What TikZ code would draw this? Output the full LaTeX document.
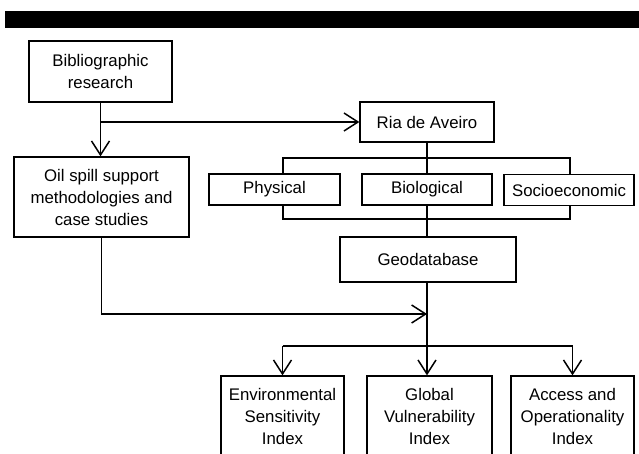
\documentclass[tikz,border=0pt]{standalone}
\usepackage{fontspec}
\setmainfont{Liberation Sans}
\usetikzlibrary{arrows.meta}
\begin{document}
\begin{tikzpicture}[x=1pt,y=-1pt,
  box/.style={draw, line width=1.3pt, fill=white, inner sep=0pt, align=center,
    font=\fontsize{16.8}{22}\selectfont},
  ln/.style={line width=1.5pt},
  arr/.style={line width=1.5pt, -{Straight Barb[length=14pt,width=18pt,line width=1.5pt]}}]
\useasboundingbox (0,0) rectangle (639,454);
\fill[black] (5,11) rectangle (639,28);
\node[box, minimum width=143pt, minimum height=61pt] (bib) at (100.5,71.5) {Bibliographic\\research};
\node[box, minimum width=134pt, minimum height=40pt] (ria) at (427,122) {Ria de Aveiro};
\node[box, minimum width=175pt, minimum height=80pt] (oil) at (101.5,197) {Oil spill support\\methodologies and\\case studies};
\node[box, minimum width=131pt, minimum height=31pt] (phys) at (274.5,189.5) {Physical};
\node[box, minimum width=130pt, minimum height=31pt] (bio) at (427,189.5) {Biological};
\node[box, minimum width=130pt, minimum height=31pt] (soc) at (569,190) {Socioeconomic};
\node[box, minimum width=176pt, minimum height=45pt] (geo) at (428,259.5) {Geodatabase};
\node[box, minimum width=123pt, minimum height=81pt] (env) at (282.5,416.5) {Environmental\\Sensitivity\\Index};
\node[box, minimum width=125pt, minimum height=81pt] (glob) at (429.5,416.5) {Global\\Vulnerability\\Index};
\node[box, minimum width=123pt, minimum height=81pt] (acc) at (572.5,416.5) {Access and\\Operationality\\Index};
% connectors
\coordinate (j1) at (bib.south |- ria.west);
\draw[arr] (bib.south) -- (bib.south |- oil.north);
\draw[arr] (j1) -- (ria.west);
\coordinate (tl) at (283,158);
\coordinate (tr) at (570,158);
\coordinate (bl) at (283,219);
\coordinate (br) at (570,219);
\draw[ln] (tl |- phys.north) -- (tl) -- (tr) -- (tr |- soc.north);
\draw[ln] (bl |- phys.south) -- (bl) -- (br) -- (br |- soc.south);
\draw[ln] (ria.south) -- (ria.south |- bio.north);
\draw[ln] (ria.south |- bio.south) -- (ria.south |- geo.north);
\coordinate (mj) at (427,314);
\draw[arr] (oil.south) |- (mj);
\draw[arr] (ria.south |- geo.south) -- (ria.south |- glob.north);
\coordinate (b3) at (427,346);
\draw[ln] (env.north |- b3) -- (acc.north |- b3);
\draw[arr] (env.north |- b3) -- (env.north);
\draw[arr] (acc.north |- b3) -- (acc.north);
\end{tikzpicture}
\end{document}
